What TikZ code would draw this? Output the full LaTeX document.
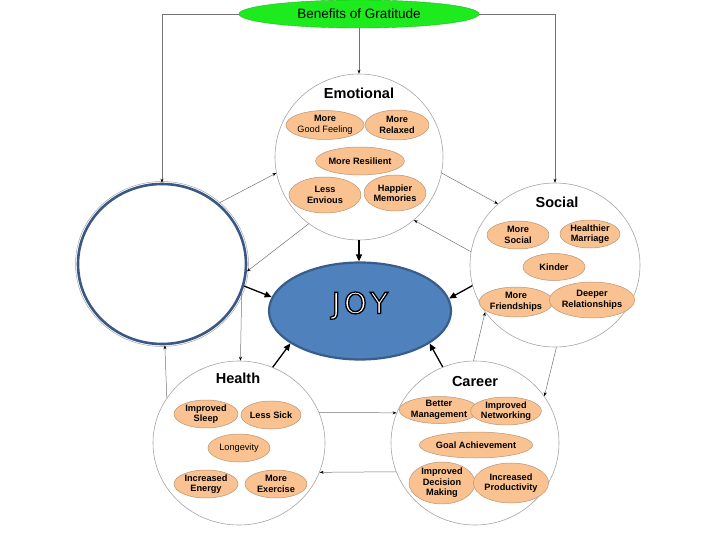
\documentclass[tikz,border=0pt]{standalone}
\usepackage{fontspec}
\setmainfont{Liberation Sans}
\newfontfamily\joyfont{DejaVu Sans}
\usetikzlibrary{arrows.meta,shapes.geometric}
\definecolor{peach}{RGB}{250,193,145}
\definecolor{peachline}{RGB}{185,150,115}
\definecolor{joyblue}{RGB}{79,129,189}
\definecolor{joyedge}{RGB}{56,93,138}
\definecolor{ringblue}{RGB}{58,88,132}
\definecolor{topgreen}{RGB}{30,235,30}
\definecolor{rimgray}{RGB}{165,165,165}
\definecolor{linkgray}{RGB}{115,115,115}
\newcommand\joylabel{\textcolor{white}{\special{pdf:code 0 G 1.3 w 2 Tr}J\kern3.5pt O\kern3.5pt Y\special{pdf:code 0 Tr}}}

\begin{document}
\begin{tikzpicture}[x=1pt, y=-1pt]
\tikzstyle{every node} = [inner sep=0pt, align=center]
\tikzstyle{area} = [ellipse, draw=rimgray, line width=0.6pt, fill=white, minimum width=170pt, minimum height=164pt]
\tikzstyle{benefit} = [ellipse, draw=peachline, line width=0.5pt, fill=peach, minimum width=64pt, minimum height=28pt, font=\bfseries\fontsize{9.2}{10.5}\selectfont]
\tikzstyle{title} = [font=\bfseries\fontsize{14.5}{17}\selectfont]
\tikzstyle{link} = [draw=linkgray, line width=0.5pt, -{Stealth[length=4pt,width=3pt,color=black]}]
\tikzstyle{feed} = [line width=1.3pt, -{Triangle[length=7pt,width=6pt]}]
\useasboundingbox (0,0) rectangle (720,540);
\node[ellipse, draw=topgreen!80!black, line width=0.4pt, fill=topgreen, minimum width=240pt, minimum height=28pt, font=\fontsize{13.5}{16}\selectfont] (ben) at (359,14) {Benefits of Gratitude};
\node[area, draw=ringblue, line width=2.6pt, minimum width=168pt, minimum height=160pt] (lc) at (162,264) {};
\draw[rimgray, line width=0.5pt] (lc.center) ellipse [x radius=86.5, y radius=82.5];
\node[area, minimum width=168pt, minimum height=166pt] (emo) at (359,157) {};
\node[area] (soc) at (555,265) {};
\node[area, minimum width=172pt] (hea) at (239,443) {};
\node[area, minimum width=168pt] (car) at (475,443) {};
\node[ellipse, draw=joyedge, line width=2.2pt, fill=joyblue, minimum width=182pt, minimum height=97pt, font=\joyfont\fontsize{29}{34}\selectfont] (joy) at (360,311) {\raisebox{-2.5pt}[0pt][0pt]{\joylabel}};
\node[title] (emot) at (359,93) {Emotional};
\node[benefit, minimum width=72pt, minimum height=29pt] (gfeel) at (325,125) {More\\\mdseries Good Feeling};
\node[benefit, minimum height=30pt] (relax) at (397,125) {More\\Relaxed};
\node[benefit, minimum width=78pt] (resil) at (360,161) {More Resilient};
\node[benefit, minimum width=72pt, minimum height=36pt] (envy) at (325,195) {Less\\Envious};
\node[benefit, minimum width=62pt, minimum height=36pt] (memo) at (395,193) {Happier\\Memories};
\node[title] (socl) at (557,202) {Social};
\node[benefit, minimum width=62pt] (msoc) at (518,235) {More\\Social};
\node[benefit, minimum width=60pt] (hmar) at (590,234) {Healthier\\Marriage};
\node[benefit, minimum width=62pt, minimum height=27pt] (kind) at (554,267) {Kinder};
\node[benefit, minimum width=66pt, minimum height=30pt] (mfri) at (516,302) {More\\Friendships};
\node[benefit, minimum width=70pt, minimum height=36pt] (deep) at (592,300) {Deeper\\Relationships};
\node[title] (heal) at (238,378) {Health};
\node[benefit] (isleep) at (206,414) {Improved\\Sleep};
\node[benefit, minimum width=54pt] (lsick) at (271,415) {Less Sick};
\node[benefit, minimum width=62pt] (longev) at (239,448) {\mdseries Longevity};
\node[benefit] (ienergy) at (206,484) {Increased\\Energy};
\node[benefit, minimum width=62pt] (mexer) at (276,484) {More\\Exercise};
\node[title] (care) at (475,382) {Career};
\node[benefit, minimum width=72pt, minimum height=27pt] (bman) at (439,410) {Better\\Management};
\node[benefit, minimum width=62pt] (inet) at (506,411) {Improved\\Networking};
\node[benefit, minimum width=92pt, minimum height=26pt] (goal) at (476,445) {Goal Achievement};
\node[benefit, minimum width=66pt, minimum height=40pt] (idec) at (442,483) {Improved\\Decision\\Making};
\node[benefit, minimum height=40pt] (iprod) at (511,483) {Increased\\Productivity};
\draw[link] (ben.west) -| (lc.north);
\draw[link] (ben.east) -| (soc.north);
\draw[link] (ben.south) -- (emo.north);
\draw[link] (lc.47) -- (emo.191);
\draw[link] (emo.233) -- (lc.355);
\draw[link] (emo.349) -- (soc.133);
\draw[link] (soc.171) -- (emo.311);
\draw[link] (hea.148) -- (lc.272);
\draw[link] (lc.340) -- (hea.89);
\draw[link] (hea.21) -- (car.159);
\draw[link] (car.200) -- (hea.340);
\draw[link] (soc.271) -- (car.34);
\draw[link] (car.91) -- (soc.214);
\draw[feed] (emo.south) -- (emo.south |- joy.north);
\draw[feed] (lc.345) -- (joy.171);
\draw[feed] (soc.194) -- (joy.8);
\draw[feed] (hea.66) -- (joy.205);
\draw[feed] (car.113) -- (joy.335);
\end{tikzpicture}
\end{document}
